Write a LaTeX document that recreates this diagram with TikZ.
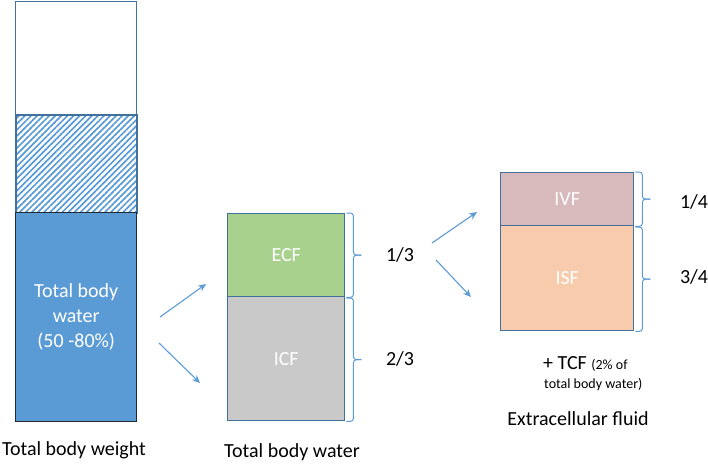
\documentclass[tikz,border=0pt]{standalone}
\usepackage{fontspec}
\setmainfont{Carlito}
\usetikzlibrary{patterns.meta,calc,arrows.meta}
\definecolor{accblue}{HTML}{5B9BD5}
\definecolor{bdrblue}{HTML}{41719C}
\definecolor{darkbdr}{HTML}{1F2A36}
\definecolor{ecfgreen}{HTML}{A9D18E}
\definecolor{icfgray}{HTML}{C9C9C9}
\definecolor{ivfpink}{HTML}{D9BABC}
\definecolor{isfpeach}{HTML}{F8CBAD}
\newcommand{\sqbrace}[2]{%
  \draw[brc] ($(#1)+(1,0)$) -- ($(#1)+(8,0)$) -- ($(#1)!0.5!(#2)+(8,0)$) -- ($(#1)!0.5!(#2)+(16,0)$);
  \draw[brc] ($(#2)+(1,0)$) -- ($(#2)+(8,0)$) -- ($(#1)!0.5!(#2)+(8,0)$) -- ($(#1)!0.5!(#2)+(16,0)$);}
\begin{document}
\begin{tikzpicture}[x=1pt,y=-1pt,
  box/.style={draw=bdrblue,line width=1.4pt,inner sep=0pt,anchor=north west,text=white,font=\fontsize{20}{25}\selectfont,align=center},
  brc/.style={draw=accblue,line width=1pt,rounded corners=3pt},
  fraclbl/.style={font=\fontsize{20}{24}\selectfont,text=black},
  caplbl/.style={font=\fontsize{20}{24}\selectfont,text=black},
  arr/.style={draw=accblue,line width=1.1pt,-{Stealth[length=8pt,width=7pt]}}]
\useasboundingbox (0,0) rectangle (708,463);
% left column
\node[box,minimum width=121pt,minimum height=113pt] (tbwtop) at (15,1) {};
\node[box,minimum width=121pt,minimum height=98pt,pattern={Lines[angle=45,distance=4.3pt,line width=1.7pt]},pattern color=accblue] (tbwmid) at (15,114) {};
\node[box,draw=darkbdr,fill=accblue,minimum width=121pt,minimum height=209pt] (tbw) at (15,212) {Total body\\water\\(50 -80\%)};
\node[caplbl,anchor=base] (captbw) at (74,455) {Total body weight};
% middle column
\node[box,fill=ecfgreen,minimum width=117pt,minimum height=83pt] (ecf) at (227,213) {ECF};
\node[box,fill=icfgray,minimum width=117pt,minimum height=124pt] (icf) at (227,296) {ICF};
\coordinate (b1t) at (ecf.north east); \coordinate (b1b) at (ecf.south east);
\coordinate (b2t) at ([yshift=-2pt]icf.north east); \coordinate (b2b) at (icf.south east);
\sqbrace{b1t}{b1b}
\sqbrace{b2t}{b2b}
\node[fraclbl] (f13) at (400,255) {1/3};
\node[fraclbl] (f23) at (400,359) {2/3};
\node[caplbl,anchor=base] (captw) at (292,457) {Total body water};
% right column
\node[box,fill=ivfpink,minimum width=133pt,minimum height=53pt] (ivf) at (500,172) {IVF};
\node[box,fill=isfpeach,minimum width=133pt,minimum height=105pt] (isf) at (500,225) {ISF};
\coordinate (b3t) at (ivf.north east); \coordinate (b3b) at (ivf.south east);
\coordinate (b4t) at ([yshift=-2pt]isf.north east); \coordinate (b4b) at (isf.south east);
\sqbrace{b3t}{b3b}
\sqbrace{b4t}{b4b}
\node[fraclbl] (f14) at (694,202) {1/4};
\node[fraclbl] (f34) at (694,277) {3/4};
\node[anchor=base west,inner sep=0pt] (tcf) at (543,369) {\fontsize{20}{24}\selectfont + TCF \fontsize{14}{17}\selectfont(2\% of};
\node[anchor=base west,inner sep=0pt,font=\fontsize{14}{17}\selectfont] (tcf2) at (544,388) {total body water)};
\node[caplbl,anchor=base] (capecf) at (578,425) {Extracellular fluid};
% arrows
\coordinate (a1s) at (160,317); \coordinate (a1e) at (206,284);
\coordinate (a2s) at (159,343); \coordinate (a2e) at (200,383);
\coordinate (a3s) at (432,243); \coordinate (a3e) at (477,212);
\coordinate (a4s) at (436,260); \coordinate (a4e) at (471,297);
\draw[arr] (a1s) -- (a1e);
\draw[arr] (a2s) -- (a2e);
\draw[arr] (a3s) -- (a3e);
\draw[arr] (a4s) -- (a4e);
\end{tikzpicture}
\end{document}
